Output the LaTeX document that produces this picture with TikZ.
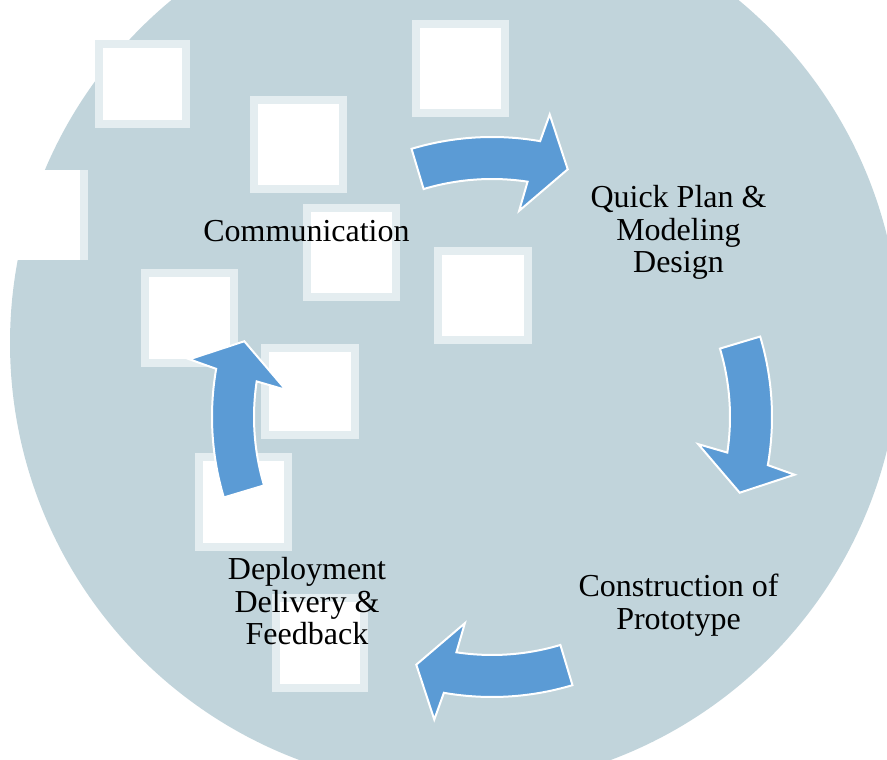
\documentclass[tikz,border=0pt]{standalone}
\usepackage{fontspec}
\setmainfont{Liberation Serif}
\definecolor{discfill}{RGB}{193,212,219}
\definecolor{tileedge}{RGB}{228,237,240}
\definecolor{arrowblue}{RGB}{91,155,213}
\begin{document}
\begin{tikzpicture}[x=1pt,y=1pt,
  tile/.style={fill=white, draw=tileedge, line width=8pt},
  cyclearrow/.style={fill=arrowblue, draw=white, line width=2pt, line join=miter},
  phase/.style={font=\fontsize{32}{32.5}\selectfont, inner sep=0pt, anchor=base, text=black}]
\useasboundingbox (0,0) rectangle (887,760);
\clip (0,0) rectangle (887,760);

% background disc
\fill[discfill] (455,417) circle[radius=445];

% scattered white tiles: centre x / centre y / half width / half height
\foreach \cx/\cy/\hw/\hh in {
  460.5/691.5/48.5/48.5, 298.5/615/48.5/48.5, 142.5/676/47.5/44,
  351.5/507/48.5/48.5, 482.5/464.5/49/48.5,
  189.5/442/48.5/49, 310/368/49/47.5, 243.5/258/48.5/49, 320/117/48/49}{
  \draw[tile] ({\cx-\hw+4},{\cy-\hh+4}) rectangle ({\cx+\hw-4},{\cy+\hh-4});
}
% tile on the left rim, running out past the disc
\fill[white] (-10,500) rectangle (88,590);
\fill[tileedge] (80,500) rectangle (88,590);

% four curved block arrows running clockwise round the cycle
\begin{scope}[shift={(492,343)}]
  \foreach \a in {106.7,16.7,-73.3,-163.3}{
    \draw[cyclearrow] (\a:280) arc[start angle=\a, end angle={\a-26.6}, radius=280]
      -- ({\a-27.5}:308) -- ({\a-33.7}:259) -- ({\a-24.2}:208) -- ({\a-25.3}:238)
      arc[start angle={\a-25.3}, end angle=\a, radius=238] -- cycle;
  }
\end{scope}

% phase labels
\node[phase] (comm) at (306.5,518) {Communication};
\node[phase] (plan) at (678.5,552) {\begin{tabular}[t]{@{}c@{}}Quick Plan \&\\Modeling\\Design\end{tabular}};
\node[phase] (proto) at (678.5,163) {\begin{tabular}[t]{@{}c@{}}Construction of\\Prototype\end{tabular}};
\node[phase] (deploy) at (307,180) {\begin{tabular}[t]{@{}c@{}}Deployment\\Delivery \&\\Feedback\end{tabular}};
\end{tikzpicture}
\end{document}
